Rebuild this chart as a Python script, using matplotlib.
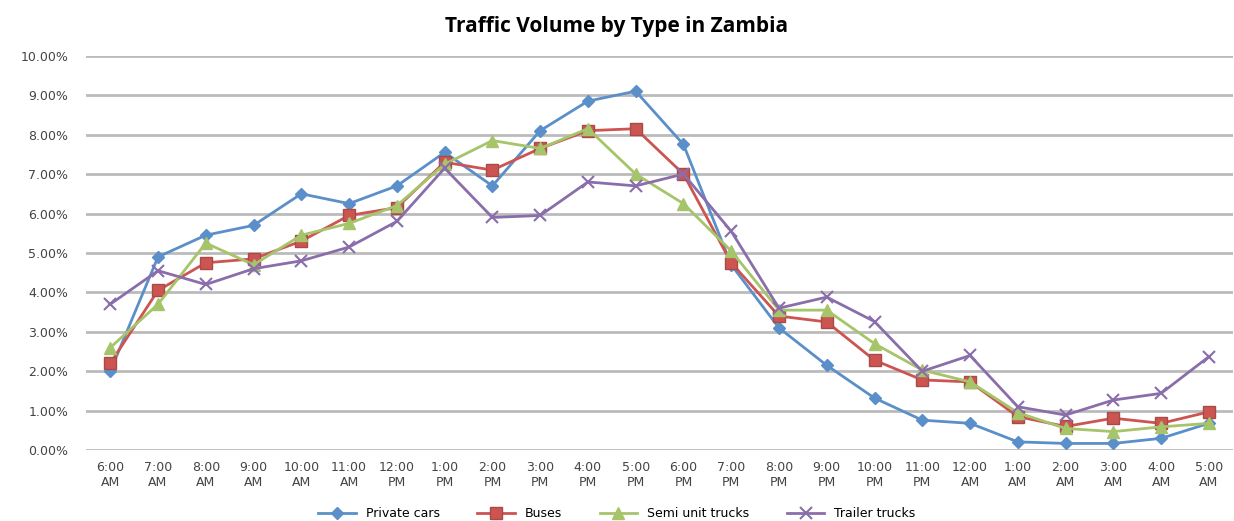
import matplotlib.pyplot as plt
from matplotlib.ticker import PercentFormatter

hours = ['6:00\nAM', '7:00\nAM', '8:00\nAM', '9:00\nAM', '10:00\nAM', '11:00\nAM',
         '12:00\nPM', '1:00\nPM', '2:00\nPM', '3:00\nPM', '4:00\nPM', '5:00\nPM',
         '6:00\nPM', '7:00\nPM', '8:00\nPM', '9:00\nPM', '10:00\nPM', '11:00\nPM',
         '12:00\nAM', '1:00\nAM', '2:00\nAM', '3:00\nAM', '4:00\nAM', '5:00\nAM']

private_cars = [2.0, 4.9, 5.45, 5.7, 6.5, 6.25, 6.7, 7.55, 6.7, 8.1, 8.85, 9.1,
                7.75, 4.7, 3.1, 2.15, 1.32, 0.76, 0.68, 0.21, 0.17, 0.17, 0.3, 0.68]
buses = [2.2, 4.05, 4.75, 4.85, 5.3, 5.95, 6.15, 7.3, 7.1, 7.65, 8.1, 8.15,
         7.0, 4.75, 3.4, 3.25, 2.28, 1.78, 1.73, 0.85, 0.6, 0.81, 0.68, 0.97]
semi_trucks = [2.6, 3.7, 5.25, 4.7, 5.45, 5.75, 6.2, 7.25, 7.85, 7.65, 8.15, 7.0,
               6.25, 5.05, 3.55, 3.55, 2.7, 2.03, 1.73, 0.95, 0.55, 0.47, 0.59, 0.68]
trailer_trucks = [3.7, 4.55, 4.2, 4.6, 4.8, 5.15, 5.8, 7.15, 5.9, 5.95, 6.8, 6.7,
                  7.0, 5.55, 3.6, 3.88, 3.26, 2.0, 2.4, 1.1, 0.89, 1.27, 1.44, 2.37]

plt.rcParams['font.family'] = ['DejaVu Sans']

fig = plt.figure(figsize=(12.34, 5.21), dpi=100)
ax = fig.add_axes([0.07, 0.136, 0.929, 0.757])

x = range(len(hours))
ax.plot(x, private_cars, color='#5B8FC9', lw=2, marker='D', ms=6, label='Private cars')
ax.plot(x, buses, color='#CC5552', lw=2, marker='s', ms=9, mec='#A84A47', label='Buses')
ax.plot(x, semi_trucks, color='#A6C46A', lw=2, marker='^', ms=8, label='Semi unit trucks')
ax.plot(x, trailer_trucks, color='#8A6EAB', lw=2, marker='x', ms=8, mew=1.5, label='Trailer trucks')

ax.set_xlim(-0.5, 23.5)
ax.set_ylim(0, 10)
ax.set_yticks(range(0, 11))
ax.yaxis.set_major_formatter(PercentFormatter(decimals=2))
ax.set_xticks(list(x))
ax.set_xticklabels(hours)
ax.tick_params(length=0, labelsize=9, colors='#444444', pad=8)
ax.tick_params(axis='y', pad=13)
ax.grid(axis='y', color='#BBBBBB', lw=2)
ax.set_axisbelow(True)
for s in ax.spines.values():
    s.set_visible(False)

fig.text(0.5, 0.95, 'Traffic Volume by Type in Zambia', ha='center', va='center',
         fontsize=15, fontweight='bold', family='Open Sans')
fig.legend(loc='lower center', ncol=4, frameon=False, fontsize=9,
           bbox_to_anchor=(0.5, -0.02), handlelength=3, columnspacing=3)

fig.savefig('out.png', dpi=100)
